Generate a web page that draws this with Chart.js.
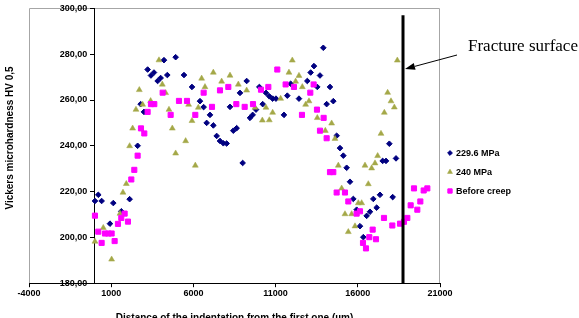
<!DOCTYPE html>
<html><head><meta charset="utf-8">
<script src="https://cdn.jsdelivr.net/npm/chart.js@4.4.1/dist/chart.umd.min.js"></script>
<style>html,body{margin:0;padding:0;background:#fff}#wrap{width:579px;height:318px;position:relative}</style>
</head><body><div id="wrap"><canvas id="c" width="579" height="318"></canvas></div>
<script>
const xTickValues = [-4000, 1000, 6000, 11000, 16000, 21000];
const yTickValues = [180, 200, 220, 240, 260, 280, 300];
const seriesNames = ['229.6 MPa', '240 MPa', 'Before creep'];
const xTitle = 'Distance of the indentation from the first one (µm)';
const yTitle = 'Vickers microhardness HV 0,5';
const annotationText = 'Fracture surface';
const fractureX = 18750;
const fractureY = [180, 297];

const s1X = [12, 215, 418, 925, 1128, 1614, 2121, 2608, 2790, 2993, 3216, 3419, 3602, 3825, 4007, 4210, 4413, 4920, 5427, 5914, 6400, 6623, 6806, 7009, 7212, 7415, 7617, 7820, 8023, 8226, 8428, 8631, 8834, 8996, 9240, 9443, 9605, 9808, 10011, 10214, 10416, 10619, 10820, 11022, 11509, 11712, 11915, 12422, 12929, 13132, 13334, 13537, 13700, 13902, 14105, 14308, 14510, 14713, 14916, 15119, 15322, 15525, 15728, 15930, 16133, 16336, 16538, 16741, 16944, 17147, 17350, 17512, 17715, 17918, 18121, 18324];
const s1Y = [215.9, 218.6, 215.9, 206.0, 215.0, 211.4, 216.7, 240.0, 258.2, 254.8, 273.3, 270.7, 272.0, 268.3, 269.6, 277.4, 270.9, 278.7, 270.9, 265.7, 259.5, 256.9, 250.0, 253.5, 248.9, 244.3, 242.1, 241.1, 241.0, 257.0, 246.6, 247.7, 263.1, 232.5, 268.3, 252.2, 253.5, 255.8, 265.7, 258.2, 263.1, 261.6, 260.6, 260.6, 253.5, 261.9, 267.1, 260.6, 268.3, 272.0, 274.8, 265.7, 270.7, 282.8, 258.2, 265.7, 259.5, 244.4, 239.0, 235.7, 230.4, 224.3, 216.8, 212.1, 204.9, 200.1, 209.4, 211.2, 216.8, 213.0, 218.6, 233.4, 233.4, 240.9, 217.6, 234.5];

const s2X = [12, 519, 1026, 1533, 1716, 1919, 2121, 2304, 2507, 2710, 2912, 3399, 3906, 4109, 4312, 4514, 4717, 4920, 5528, 5711, 5914, 6116, 6299, 6502, 6705, 7212, 7718, 8226, 8733, 9240, 9747, 10193, 10414, 10617, 10820, 11306, 11813, 12016, 12219, 12422, 12625, 12827, 13030, 13537, 14024, 14409, 14612, 14815, 15018, 15220, 15423, 15626, 15829, 16032, 16235, 16437, 16640, 16843, 17046, 17208, 17411, 17613, 17816, 18019, 18222, 18404];
const s2Y = [198.2, 204.2, 190.4, 210.4, 219.6, 223.4, 239.9, 247.6, 255.8, 264.4, 258.0, 259.6, 277.4, 266.8, 263.1, 255.8, 247.6, 236.7, 242.1, 258.0, 250.9, 231.4, 256.7, 269.4, 265.7, 272.0, 268.1, 270.7, 266.8, 264.2, 256.7, 251.1, 256.7, 251.2, 254.5, 260.6, 272.0, 277.3, 268.1, 270.6, 265.7, 258.0, 259.5, 252.2, 246.6, 249.8, 243.1, 231.4, 221.4, 210.2, 202.4, 210.2, 204.9, 215.0, 215.0, 231.4, 223.3, 230.2, 232.4, 235.6, 245.3, 254.5, 263.2, 259.5, 256.8, 277.3];

const s3X = [12, 215, 418, 621, 823, 1026, 1209, 1412, 1614, 1817, 2020, 2223, 2405, 2608, 2811, 3014, 3216, 3419, 3622, 4129, 4616, 5123, 5610, 6116, 6623, 7131, 7617, 8124, 8611, 9118, 9625, 10112, 10558, 11104, 11610, 12117, 12604, 13111, 13314, 13517, 13700, 13922, 14105, 14308, 14510, 14713, 15220, 15423, 15930, 16133, 16316, 16498, 16701, 16904, 17107, 17593, 18100, 18567, 18810, 19013, 19216, 19418, 19621, 19804, 20007, 20230];
const s3Y = [209.5, 202.5, 197.6, 201.7, 201.7, 201.7, 198.4, 205.9, 208.5, 210.4, 206.9, 225.3, 229.5, 235.7, 247.6, 245.4, 254.8, 258.2, 258.2, 263.2, 253.5, 259.6, 259.6, 253.5, 263.2, 257.0, 264.2, 265.7, 258.2, 257.0, 258.2, 264.5, 265.7, 273.3, 266.8, 265.7, 253.5, 263.2, 266.8, 255.8, 246.6, 252.2, 243.3, 228.5, 228.5, 219.6, 219.6, 215.7, 210.4, 211.4, 197.6, 195.2, 200.1, 203.4, 199.2, 208.5, 205.2, 206.0, 206.8, 208.5, 214.0, 221.4, 212.1, 215.7, 220.5, 221.4];

const zip = (xs, ys) => xs.map((x, i) => ({x: x, y: ys[i]}));
const FONT = "'Liberation Sans', Arial, sans-serif";

const decor = {
  id: 'decor',
  beforeDraw(chart) {
    const {ctx, chartArea: a} = chart;
    ctx.save();
    ctx.fillStyle = '#fff';
    ctx.fillRect(0, 0, chart.width, chart.height);
    ctx.strokeStyle = '#a6a6a6';
    ctx.lineWidth = 1;
    const l = Math.round(a.left) + 0.5, r = Math.round(a.right) - 0.5, t = Math.round(a.top) + 0.5, b = Math.round(a.bottom);
    ctx.beginPath();
    ctx.moveTo(l, b); ctx.lineTo(l, t); ctx.lineTo(r, t); ctx.lineTo(r, b);
    ctx.stroke();
    ctx.restore();
  },
  afterDraw(chart) {
    const {ctx} = chart;
    ctx.save();
    ctx.fillStyle = '#000';
    ctx.font = 'bold 10px ' + FONT;
    ctx.textAlign = 'center';
    ctx.textBaseline = 'middle';
    ctx.translate(10, 138);
    ctx.rotate(-Math.PI / 2);
    ctx.fillText(yTitle, 0, 0);
    ctx.restore();

    ctx.save();
    const items = chart.data.datasets.filter(d => d.inLegend);
    items.forEach((d, i) => {
      const y = 153 + i * 19;
      ctx.fillStyle = d.backgroundColor;
      ctx.strokeStyle = d.borderColor;
      ctx.lineWidth = d.borderWidth;
      Chart.helpers.drawPoint(ctx, {pointStyle: d.pointStyle, radius: d.pointRadius * 0.85, borderWidth: d.borderWidth, rotation: 0}, 450, y);
      ctx.fillStyle = '#000';
      ctx.font = 'bold 9px ' + FONT;
      ctx.textAlign = 'left';
      ctx.textBaseline = 'middle';
      ctx.fillText(d.label, 456, y + 0.5);
    });
    ctx.restore();

    ctx.save();
    const px = chart.scales.x.getPixelForValue(fractureX);
    const x0 = 457, y0 = 55, x1 = px + 2, y1 = 69;
    const ang = Math.atan2(y1 - y0, x1 - x0);
    const hl = 10, hw = 3.5;
    const bx = x1 - Math.cos(ang) * hl, by = y1 - Math.sin(ang) * hl;
    ctx.strokeStyle = '#000';
    ctx.lineWidth = 1;
    ctx.beginPath(); ctx.moveTo(x0, y0); ctx.lineTo(bx, by); ctx.stroke();
    ctx.fillStyle = '#000';
    ctx.beginPath();
    ctx.moveTo(x1, y1);
    ctx.lineTo(bx - Math.sin(ang) * hw, by + Math.cos(ang) * hw);
    ctx.lineTo(bx + Math.sin(ang) * hw, by - Math.cos(ang) * hw);
    ctx.closePath(); ctx.fill();
    ctx.font = "17px 'Liberation Serif', 'Times New Roman', serif";
    ctx.textAlign = 'left';
    ctx.textBaseline = 'alphabetic';
    ctx.fillText(annotationText, 468, 50.5);
    ctx.restore();
  }
};

new Chart(document.getElementById('c'), {
  type: 'scatter',
  data: {
    datasets: [
      {label: seriesNames[0], inLegend: true, data: zip(s1X, s1Y), pointStyle: 'rectRot', pointRadius: 2.8, backgroundColor: '#000080', borderColor: '#000080', borderWidth: 1, order: 3},
      {label: seriesNames[1], inLegend: true, data: zip(s2X, s2Y), pointStyle: 'triangle', pointRadius: 3.4, backgroundColor: '#a4a848', borderColor: '#a4a848', borderWidth: 0.5, order: 2},
      {label: seriesNames[2], inLegend: true, data: zip(s3X, s3Y), pointStyle: 'rect', pointRadius: 3.6, backgroundColor: '#ff00ff', borderColor: '#ff00ff', borderWidth: 1, order: 1},
      {label: 'fracture', type: 'line', showLine: true, data: [{x: fractureX, y: fractureY[0]}, {x: fractureX, y: fractureY[1]}], borderColor: '#000', borderWidth: 3, pointRadius: 0, fill: false, order: 0}
    ]
  },
  options: {
    responsive: false,
    animation: false,
    devicePixelRatio: 1,
    layout: {padding: {left: 29, right: 139, top: 8, bottom: 0}},
    plugins: {legend: {display: false}, tooltip: {enabled: false}},
    scales: {
      x: {
        type: 'linear', position: 'bottom', min: -4000, max: 21000,
        afterBuildTicks: s => { s.ticks = xTickValues.map(v => ({value: v})); },
        ticks: {autoSkip: false, maxRotation: 0, padding: 1, color: '#000', font: {family: FONT, size: 9, weight: 'bold'}, callback: v => String(v)},
        grid: {drawOnChartArea: false, drawTicks: true, tickLength: 4, tickColor: '#000', tickWidth: 1},
        border: {display: true, color: '#000', width: 1},
        title: {display: true, text: xTitle, color: '#000', font: {family: FONT, size: 10, weight: 'bold', lineHeight: 1.2}, padding: {top: 12, bottom: -6}}
      },
      y: {
        type: 'linear', position: {x: 0}, min: 180, max: 300,
        afterBuildTicks: s => { s.ticks = yTickValues.map(v => ({value: v})); },
        ticks: {padding: 3, color: '#000', font: {family: FONT, size: 9, weight: 'bold'}, callback: v => v.toFixed(2).replace('.', ',') + '   '},
        grid: {drawOnChartArea: false, drawTicks: true, tickLength: 4, tickColor: '#000', tickWidth: 1},
        border: {display: true, color: '#000', width: 1},
        title: {display: false}
      }
    }
  },
  plugins: [decor]
});
</script></body></html>
